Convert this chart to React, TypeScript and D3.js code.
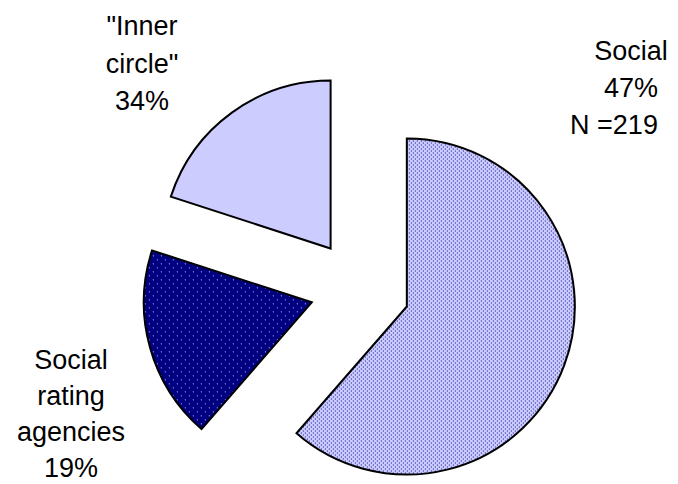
import React from "react";
import * as d3 from "d3";

// Slice sizes as drawn in the picture (share of the circle), in drawing order clockwise from 12 o'clock
const categories = ["Social", "Social rating agencies", "\"Inner circle\""];
const drawnShares = [61.4, 18.6, 20.0];
// Printed labels
const labelLines: string[][] = [
  ["Social", "47%", "N =219"],
  ["Social", "rating", "agencies", "19%"],
  ["\"Inner", "circle\"", "34%"],
];

const W = 678;
const H = 484;
const CX = 360;
const CY = 289;
const R = 168;
const EXPLODE = 50;

export default function App() {
  const pie = d3.pie<number>().sort(null).value((d) => d).startAngle(0).endAngle(2 * Math.PI);
  const arcs = pie(drawnShares);
  const arcGen = d3.arc<d3.PieArcDatum<number>>().innerRadius(0).outerRadius(R);
  const fills = ["url(#dotsLight)", "url(#dotsDark)", "#ccccff"];

  const labelPos = [
    { x: 631, y: 60, offs: [0, 0, -17] },
    { x: 71, y: 369, offs: [0, 0, 0, 0] },
    { x: 142, y: 35, offs: [0, 0, 0] },
  ];
  const lineGaps = [37, 36, 37.5];

  return (
    <svg
      width={W}
      height={H}
      style={{ position: "absolute", left: 0, top: 0, background: "#fff" }}
      fontFamily="'Liberation Sans', Arial, sans-serif"
    >
      <defs>
        <pattern id="dotsLight" width={4} height={4} patternUnits="userSpaceOnUse">
          <rect width={4} height={4} fill="#ccccff" />
          <rect x={0} y={0} width={1} height={1} fill="#000080" />
          <rect x={2} y={2} width={1} height={1} fill="#000080" />
        </pattern>
        <pattern id="dotsDark" width={8} height={8} patternUnits="userSpaceOnUse">
          <rect width={8} height={8} fill="#000080" />
          <rect x={1} y={1} width={1} height={1} fill="#ccccff" />
          <rect x={5} y={5} width={1} height={1} fill="#ccccff" />
        </pattern>
      </defs>
      {arcs.map((a, i) => {
        const mid = (a.startAngle + a.endAngle) / 2;
        const dx = Math.sin(mid) * EXPLODE;
        const dy = -Math.cos(mid) * EXPLODE;
        return (
          <path
            key={categories[i]}
            d={arcGen(a) || ""}
            transform={`translate(${CX + dx},${CY + dy})`}
            fill={fills[i]}
            stroke="#000"
            strokeWidth={2}
            strokeLinejoin="miter"
          />
        );
      })}
      {labelLines.map((lines, i) => (
        <text key={i} fontSize={27} textAnchor="middle" fill="#000">
          {lines.map((ln, j) => (
            <tspan
              key={j}
              x={labelPos[i].x + labelPos[i].offs[j]}
              y={labelPos[i].y + j * lineGaps[i]}
            >
              {ln}
            </tspan>
          ))}
        </text>
      ))}
    </svg>
  );
}
